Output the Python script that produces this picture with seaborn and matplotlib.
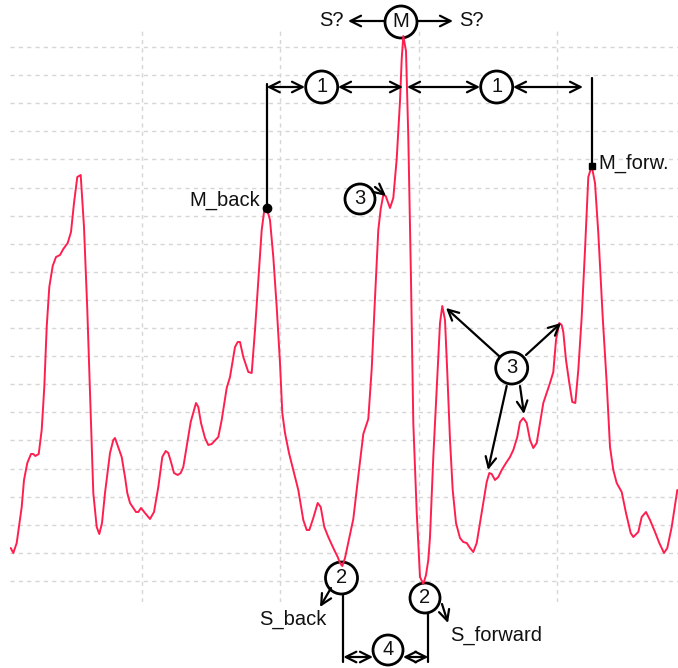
import numpy as np
import pandas as pd
import matplotlib
matplotlib.use("Agg")
import matplotlib.pyplot as plt
import seaborn as sns
from matplotlib.patches import Circle

# ---- data (bar position, price level) ----
bar_x = [10.7, 13.3, 16.7, 21.7, 24, 27.3, 31, 33.3, 35.3, 38.7, 41.7, 44.3, 46.7, 49.3,
         52.7, 56, 60, 63.3, 67.7, 71, 74, 77.3, 80.7, 84, 87.3, 90, 93.3, 96.7, 99.3, 102,
         105, 110, 113.3, 115, 121.7, 125, 127.3, 130, 136, 138.3, 141, 145, 150, 154,
         158.3, 162.3, 165.7, 168.3, 171, 174, 177.7, 180.7, 183.3, 187.3, 190.7, 196,
         198.3, 201, 205, 208.3, 211.7, 218.3, 221.7, 226.7, 230, 235, 237.7, 240, 243.3,
         248.3, 251.7, 255, 258.3, 261.7, 264.3, 266.7, 270, 273.3, 276.7, 280, 282.3, 285,
         289, 293.3, 298.3, 303.3, 306.7, 309.3, 313.3, 317.7, 320.7, 324.3, 328.3, 333.3,
         337.7, 340, 342.3, 345, 353.3, 358.3, 363.3, 368.3, 371.7, 375, 378.3, 380.7,
         383.3, 385.7, 390, 393.3, 396.7, 400, 401.7, 403.3, 406, 408.3, 411, 413.3, 416.7,
         420, 423.3, 426, 428.3, 430, 433.3, 436.7, 440, 442.3, 445, 447.3, 450, 452.7, 456,
         460, 463.3, 466.7, 470, 473.3, 476.7, 480, 483.3, 486.7, 489.3, 491.7, 495, 498.3,
         501.7, 506, 510, 513.3, 517.3, 520, 523.3, 526.7, 530, 533.3, 536.7, 540, 543.3,
         546.7, 550, 553.3, 556, 559.3, 561.7, 563.3, 566, 569.3, 572.3, 575.3, 578.3,
         581.7, 585, 588.3, 591.7, 595, 598.3, 602.7, 606.7, 610, 613.3, 616.7, 621.7, 626,
         630.7, 633.3, 638.3, 641.7, 646, 650, 655, 659.3, 664, 667.3, 671.7, 677.3]
price = [120, 115, 125, 161, 188, 205, 214, 214, 212, 214, 238, 281, 341, 381,
         402, 411, 413, 419, 425, 436, 465, 491, 493, 441, 358, 275, 175, 141, 134, 145,
         175, 215, 228, 230, 211, 191, 175, 165, 156, 156, 160, 155, 149, 156,
         181, 211, 217, 215, 206, 195, 193, 195, 201, 225, 246, 265,
         261, 245, 230, 223, 224, 231, 248, 280, 291, 321, 326, 326, 311,
         296, 295, 338, 388, 438, 458, 460, 448, 411, 361, 305, 255, 235,
         215, 198, 178, 148, 138, 138, 150, 165, 161, 141, 131, 120,
         111, 105, 102, 110, 149, 192, 234, 249, 299, 370, 438, 459,
         473, 472, 460, 470, 509, 567, 609, 632, 617, 531, 388, 245, 156,
         91, 84, 93, 108, 131, 211, 278, 345, 362, 348, 295, 228, 178, 145,
         130, 126, 125, 120, 116, 125, 145, 165, 186, 195, 194, 188, 191,
         198, 205, 211, 218, 231, 246, 250, 245, 228, 220, 225, 245, 265,
         275, 285, 296, 328, 345, 343, 336, 308, 285, 266, 265, 298,
         351, 418, 491, 502, 485, 435, 351, 285, 221, 198, 185, 176, 155,
         135, 131, 136, 151, 156, 148, 136, 125, 115, 120, 141, 178]

grid_levels = np.linspace(87, 621, 20)
grid_bars = np.linspace(142, 557, 4)

# ---- figure ----
sns.set_theme(style="white")
plt.rcParams['font.family'] = ['Liberation Sans', 'DejaVu Sans']

W, H = 678, 668
fig = plt.figure(figsize=(W / 100, H / 100), dpi=100)
ax = fig.add_axes([10 / W, (H - 602) / H, (W - 10) / W, (602 - 29) / H])

df = pd.DataFrame({"bar": bar_x, "price": price})
sns.lineplot(data=df, x="bar", y="price", ax=ax, color="#ff1f4f", lw=1.4, zorder=3)

ax.set_xlim(10, 678)
ax.set_ylim(66, 639)
ax.set_yticks(grid_levels)
ax.set_xticks(grid_bars)
ax.grid(True, color="#d6d6d6", linestyle=(0, (3, 3)), lw=1)
ax.set_axisbelow(True)
ax.tick_params(length=0, labelleft=False, labelbottom=False)
for s in ax.spines.values():
    s.set_visible(False)
ax.set_xlabel("")
ax.set_ylabel("")


def pos(px, py):
    """layout helper: figure pixel -> data coordinates of this axes"""
    return (px, H - py)


def point_at(xv):
    i = int(np.argmin(np.abs(np.array(bar_x) - xv)))
    return bar_x[i], price[i]


def badge(px, py, label, r=16):
    ax.add_patch(Circle(pos(px, py), r, fc="white", ec="black", lw=2.0,
                        zorder=2, clip_on=False))
    ax.text(*pos(px, py - 0.5), label, ha="center", va="center", fontsize=14.5,
            color="#111111", zorder=6, clip_on=False)


def arrow(p0, p1, style="->"):
    ax.annotate("", xy=pos(*p1), xytext=pos(*p0),
                arrowprops=dict(arrowstyle=style, color="black", lw=1.6,
                                mutation_scale=19, shrinkA=0, shrinkB=0),
                annotation_clip=False, zorder=6)


def vline(px, py0, py1):
    ax.plot([px, px], [H - py0, H - py1], color="black", lw=1.6,
            clip_on=False, zorder=5)


txt = dict(fontsize=14.5, color="#111111", clip_on=False, zorder=6)

# M and S?
badge(401, 22, "M")
arrow((385, 21), (348, 21))
arrow((417, 21), (453, 21))
ax.text(*pos(344, 20), "S?", ha="right", va="center", **txt)
ax.text(*pos(459, 20), "S?", ha="left", va="center", **txt)

# M_back / M_forw markers
mb = point_at(266.7)
mf = point_at(591.7)
ax.plot([mb[0]], [mb[1]], "o", color="black", ms=6, zorder=7, clip_on=False)
ax.plot([mf[0]], [mf[1]], "s", color="black", ms=5, zorder=7, clip_on=False)
ax.plot([mb[0], mb[0]], [mb[1], H - 84], color="black", lw=1.6, zorder=5, clip_on=False)
ax.plot([mf[0], mf[0]], [mf[1], H - 78], color="black", lw=1.6, zorder=5, clip_on=False)
ax.text(*pos(260, 200), "M_back", ha="right", va="center", **txt)
ax.text(*pos(598, 163), "M_forw.", ha="left", va="center", **txt)

# distance "1"
badge(321.7, 87, "1")
badge(496.7, 87, "1")
arrow((mb[0], 87), (305, 87), "<->")
arrow((338, 87), (403, 87), "<->")
arrow((407, 87), (480, 87), "<->")
arrow((513, 87), (583, 87), "<->")

# "3" marks
badge(360, 199, "3", r=15)
arrow((375, 187), (386, 196))
badge(511.7, 368, "3")
arrow((499, 356), (446, 308))
arrow((526, 355), (561, 323))
arrow((506.7, 386), (488, 470))
arrow((520, 386), (524, 414))

# "2" marks and S_back / S_forward
badge(341.5, 578, "2")
badge(425, 598, "2", r=15)
arrow((331, 588), (320, 607))
arrow((442, 604), (448, 623))
ax.text(*pos(293, 619), "S_back", ha="center", va="center", **txt)
ax.text(*pos(450, 635), "S_forward", ha="left", va="center", **txt)

# distance "4"
vline(343.3, 594, 662)
vline(428.3, 613, 662)
badge(388, 650, "4", r=15)
arrow((343.3, 657), (373, 657), "<->")
arrow((403, 657), (428.3, 657), "<->")

fig.savefig("out.png", dpi=100)
